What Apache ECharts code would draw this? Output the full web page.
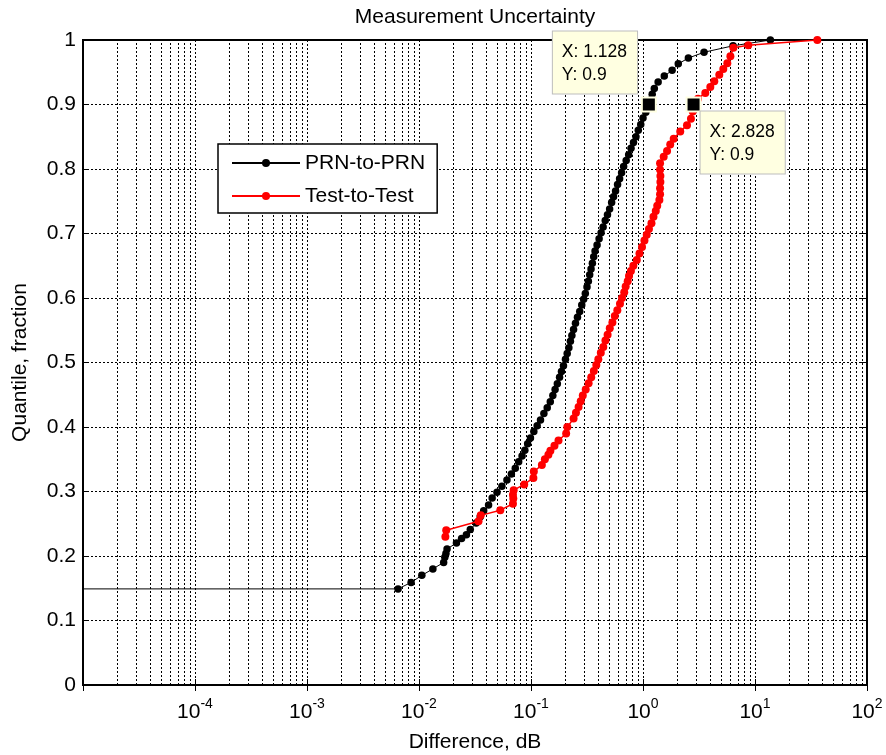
<!DOCTYPE html>
<html>
<head>
<meta charset="utf-8">
<title>Measurement Uncertainty</title>
<script src="https://cdn.jsdelivr.net/npm/echarts@6/dist/echarts.min.js"></script>
<style>
  html, body { margin: 0; padding: 0; background: #fff; }
  #chart { width: 886px; height: 755px; }
</style>
</head>
<body>
<div id="chart"></div>
<script>
// Empirical quantiles of the measured differences (dB).
// Zero differences cannot sit on a log axis: the first PRN point is a tiny
// stand-in value so the flat run at the lowest quantile leaves the left edge.
const prnX = [1e-7, 0.0065, 0.0085, 0.0106, 0.0133, 0.0166, 0.0170, 0.0174, 0.0178, 0.0216,
  0.0240, 0.0265, 0.0287, 0.0324, 0.0352, 0.0378, 0.0418, 0.0450, 0.0497, 0.0550,
  0.0610, 0.0668, 0.0724, 0.0776, 0.0832, 0.0881, 0.0933, 0.0989, 0.106, 0.1135,
  0.1216, 0.1303, 0.1396, 0.1486, 0.1567, 0.1641, 0.1718, 0.1799, 0.1871, 0.1950,
  0.2032, 0.2104, 0.2178, 0.2249, 0.2317, 0.2399, 0.2495, 0.2600, 0.2723, 0.2838,
  0.2951, 0.3055, 0.3162, 0.3251, 0.3342, 0.3436, 0.3532, 0.3631, 0.3733, 0.3890,
  0.4055, 0.4227, 0.4406, 0.4603, 0.4819, 0.5035, 0.5248, 0.5458, 0.5689, 0.5929,
  0.6180, 0.6442, 0.6714, 0.7079, 0.7447, 0.7816, 0.8222, 0.8650, 0.9078, 0.9550,
  1.000, 1.059, 1.122, 1.164, 1.208, 1.262, 1.365, 1.549, 1.820, 2.065,
  2.541, 3.508, 6.368, 13.71];
const prnY = [0.149, 0.149, 0.159, 0.170, 0.180, 0.190, 0.198, 0.204, 0.211, 0.220,
  0.227, 0.233, 0.241, 0.251, 0.261, 0.270, 0.279, 0.290, 0.299, 0.308,
  0.318, 0.327, 0.336, 0.346, 0.355, 0.364, 0.374, 0.383, 0.393, 0.402,
  0.411, 0.421, 0.430, 0.439, 0.449, 0.458, 0.467, 0.477, 0.486, 0.495,
  0.505, 0.514, 0.523, 0.533, 0.542, 0.551, 0.561, 0.570, 0.579, 0.589,
  0.598, 0.607, 0.617, 0.626, 0.636, 0.645, 0.654, 0.664, 0.673, 0.682,
  0.692, 0.701, 0.710, 0.720, 0.729, 0.738, 0.748, 0.757, 0.766, 0.776,
  0.785, 0.794, 0.804, 0.813, 0.822, 0.832, 0.841, 0.850, 0.860, 0.869,
  0.879, 0.888, 0.897, 0.907, 0.916, 0.925, 0.935, 0.944, 0.953, 0.963,
  0.972, 0.981, 0.991, 1.000];

const testX = [0.0172, 0.0175, 0.0340, 0.0356, 0.0532, 0.0690, 0.0695, 0.0690, 0.0700, 0.0870,
  0.1050, 0.1060, 0.1250, 0.1330, 0.1430, 0.1490, 0.1620, 0.1760, 0.2060, 0.2110,
  0.2400, 0.2520, 0.2660, 0.2780, 0.2900, 0.3080, 0.3270, 0.3450, 0.3640, 0.3830,
  0.3990, 0.4200, 0.4420, 0.4620, 0.4830, 0.5050, 0.5330, 0.5600, 0.5900, 0.6230,
  0.6500, 0.6800, 0.7000, 0.7300, 0.7500, 0.7800, 0.8200, 0.8800, 0.9300, 0.9800,
  1.0300, 1.0800, 1.1300, 1.1900, 1.2400, 1.3000, 1.3400, 1.4000, 1.4200, 1.4200,
  1.4300, 1.4300, 1.4200, 1.4200, 1.5300, 1.6400, 1.7500, 1.8800, 2.1500, 2.4700,
  2.6800, 2.7800, 2.8280, 3.1000, 3.6000, 3.9900, 4.3300, 4.8000, 5.2100, 5.6600,
  6.0300, 6.4100, 8.7000, 36.00];
const testY = [0.230, 0.240, 0.254, 0.263, 0.271, 0.281, 0.289, 0.295, 0.302, 0.311,
  0.321, 0.331, 0.341, 0.350, 0.357, 0.363, 0.371, 0.379, 0.390, 0.400,
  0.413, 0.422, 0.431, 0.440, 0.449, 0.458, 0.468, 0.477, 0.487, 0.496,
  0.505, 0.515, 0.524, 0.534, 0.543, 0.553, 0.562, 0.572, 0.581, 0.591,
  0.600, 0.609, 0.618, 0.626, 0.634, 0.642, 0.650, 0.659, 0.669, 0.679,
  0.689, 0.698, 0.707, 0.716, 0.726, 0.735, 0.743, 0.752, 0.761, 0.770,
  0.780, 0.789, 0.799, 0.809, 0.819, 0.828, 0.838, 0.847, 0.858, 0.868,
  0.878, 0.889, 0.900, 0.909, 0.918, 0.927, 0.936, 0.946, 0.955, 0.964,
  0.975, 0.988, 0.992, 1.000];

// Data cursors pinned on each curve at the 0.9 quantile.
const tipX = [1.128, 2.828];
const tipY = [0.9, 0.9];

const seriesNames = ['PRN-to-PRN', 'Test-to-Test'];
const titleText = 'Measurement Uncertainty';
const xName = 'Difference, dB';
const yName = 'Quantile, fraction';

// Axis range and the log-decade minor grid (2..9 within each decade).
const xMin = 1e-5, xMax = 100;
const yMin = 0, yMax = 1;
const decadeExponents = [-5, -4, -3, -2, -1, 0, 1];
const minorMultipliers = [2, 3, 4, 5, 6, 7, 8, 9];

const FONT = "'Liberation Sans', Arial, Helvetica, sans-serif";
const pairs = (xs, ys) => xs.map((x, i) => [x, ys[i]]);
const minorValues = decadeExponents.flatMap(e => minorMultipliers.map(m => m * Math.pow(10, e)));
const dotted = { color: '#000', width: 1, type: [2, 2] };

const chart = echarts.init(document.getElementById('chart'), null, { renderer: 'canvas' });

function tipLabel(i, position) {
  return {
    show: true,
    position: position,
    formatter: () => 'X: ' + tipX[i] + '\nY: ' + tipY[i],
    color: '#000',
    fontFamily: FONT,
    fontSize: 17.5,
    lineHeight: 23,
    backgroundColor: '#ffffe1',
    borderColor: '#bdbdbd',
    borderWidth: 1,
    padding: [9, 10, 7, 9]
  };
}

const tipMarker = (i, position) => ({
  symbol: 'rect',
  symbolSize: 14,
  silent: true,
  z: 10,
  itemStyle: { color: '#000', borderColor: '#ffffe1', borderWidth: 2 },
  label: tipLabel(i, position),
  data: [{ coord: [tipX[i], tipY[i]] }]
});

// Minor vertical grid: one dotted line per value, snapped to the pixel grid.
function renderMinorLine(params, api) {
  const v = api.value(0);
  const p0 = api.coord([v, yMin]);
  const p1 = api.coord([v, yMax]);
  const x = Math.round(p0[0]) + 0.5;
  return {
    type: 'line',
    silent: true,
    shape: { x1: x, y1: p0[1], x2: x, y2: p1[1] },
    style: { stroke: '#000', lineWidth: 1, lineDash: [2, 2] }
  };
}

chart.setOption({
  animation: false,
  backgroundColor: '#fff',
  textStyle: { fontFamily: FONT, color: '#000' },
  graphic: [{
    type: 'text',
    x: 475,
    y: 17,
    style: {
      text: titleText,
      font: '21px ' + FONT,
      fill: '#000',
      align: 'center',
      verticalAlign: 'middle'
    }
  }],
  grid: {
    left: 83, right: 19, top: 40, bottom: 70,
    show: true,
    borderColor: '#000',
    borderWidth: 2,
    backgroundColor: 'transparent',
    containLabel: false,
    outerBoundsMode: 'none'
  },
  legend: {
    orient: 'vertical',
    left: 218,
    top: 144,
    itemWidth: 68,
    itemHeight: 10,
    itemGap: 9,
    padding: [7, 12, 5, 13],
    backgroundColor: '#fff',
    borderColor: '#000',
    borderWidth: 1.5,
    borderRadius: 0,
    selectedMode: false,
    textStyle: { fontFamily: FONT, fontSize: 21, lineHeight: 24, color: '#000' },
    data: seriesNames
  },
  xAxis: [{
    type: 'log',
    logBase: 10,
    min: xMin,
    max: xMax,
    splitNumber: 10,
    position: 'bottom',
    name: xName,
    nameLocation: 'middle',
    nameGap: 47,
    nameTextStyle: { fontFamily: FONT, fontSize: 21, color: '#000' },
    axisLine: { show: true, onZero: false, lineStyle: { color: '#000', width: 2 } },
    axisTick: { show: true, inside: true, length: 6, lineStyle: { color: '#000', width: 1 } },
    axisLabel: {
      margin: 12,
      color: '#000',
      formatter: v => {
        const e = Math.round(Math.log10(v));
        return e <= -5 ? '' : '{b|10}{s|' + e + '}';
      },
      rich: {
        b: { fontFamily: FONT, fontSize: 21, lineHeight: 30, color: '#000' },
        s: { fontFamily: FONT, fontSize: 14, lineHeight: 10, verticalAlign: 'top', color: '#000' }
      }
    },
    splitLine: { show: true, lineStyle: dotted },
    minorTick: { show: false },
    minorSplitLine: { show: false }
  }, {
    type: 'log',
    logBase: 10,
    min: xMin,
    max: xMax,
    splitNumber: 10,
    position: 'top',
    axisLine: { show: false },
    axisTick: { show: true, inside: true, length: 6, lineStyle: { color: '#000', width: 1 } },
    axisLabel: { show: false },
    splitLine: { show: false }
  }],
  yAxis: [{
    type: 'value',
    min: yMin,
    max: yMax,
    interval: 0.1,
    position: 'left',
    name: yName,
    nameLocation: 'middle',
    nameGap: 52,
    nameTextStyle: { fontFamily: FONT, fontSize: 21, color: '#000' },
    axisLine: { show: true, onZero: false, lineStyle: { color: '#000', width: 2 } },
    axisTick: { show: true, inside: true, length: 6, lineStyle: { color: '#000', width: 1 } },
    axisLabel: {
      margin: 7,
      fontFamily: FONT,
      fontSize: 21,
      color: '#000',
      formatter: v => String(+v.toFixed(1))
    },
    splitLine: { show: true, lineStyle: dotted }
  }, {
    type: 'value',
    min: yMin,
    max: yMax,
    interval: 0.1,
    position: 'right',
    axisLine: { show: false },
    axisTick: { show: true, inside: true, length: 6, lineStyle: { color: '#000', width: 1 } },
    axisLabel: { show: false },
    splitLine: { show: false }
  }],
  series: [{
    type: 'custom',
    xAxisIndex: 0,
    yAxisIndex: 0,
    silent: true,
    z: 1,
    clip: true,
    renderItem: renderMinorLine,
    data: minorValues.map(v => [v, yMin]),
    encode: { x: 0, y: 1 }
  }, {
    name: seriesNames[0],
    type: 'line',
    xAxisIndex: 0,
    yAxisIndex: 0,
    data: pairs(prnX, prnY),
    symbol: 'circle',
    symbolSize: 7.5,
    showSymbol: true,
    clip: true,
    z: 3,
    itemStyle: { color: '#000' },
    lineStyle: { color: '#000', width: 1 },
    emphasis: { disabled: true },
    markPoint: tipMarker(0, [-88, -65])
  }, {
    name: seriesNames[1],
    type: 'line',
    xAxisIndex: 0,
    yAxisIndex: 0,
    data: pairs(testX, testY),
    symbol: 'circle',
    symbolSize: 8,
    showSymbol: true,
    clip: true,
    z: 4,
    itemStyle: { color: '#ff0000' },
    lineStyle: { color: '#ff0000', width: 1.5 },
    emphasis: { disabled: true },
    markPoint: tipMarker(1, [15, 15])
  }]
});
</script>
</body>
</html>
